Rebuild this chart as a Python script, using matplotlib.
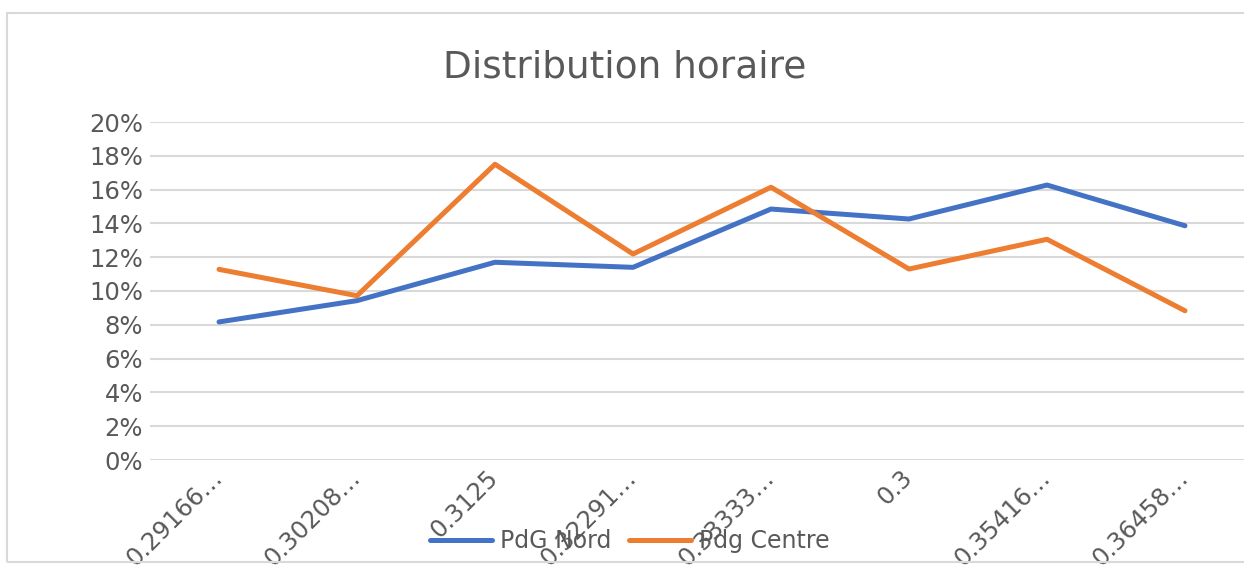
import matplotlib
matplotlib.use("Agg")
import matplotlib.pyplot as plt
from matplotlib.patches import Rectangle
from matplotlib.ticker import PercentFormatter
from matplotlib.transforms import ScaledTranslation

plt.rcParams["font.family"] = ["DejaVu Sans"]

categories = ["0.29166…", "0.30208…", "0.3125", "0.32291…", "0.33333…", "0.3", "0.35416…", "0.36458…"]
pdg_nord = [0.0817, 0.0943, 0.1170, 0.1140, 0.1485, 0.1426, 0.1627, 0.1386]
pdg_centre = [0.1128, 0.0972, 0.1750, 0.1219, 0.1614, 0.1130, 0.1306, 0.0883]
series_names = ["PdG Nord", "Pdg Centre"]

W, H = 1244, 566
fig = plt.figure(figsize=(W / 100, H / 100), dpi=100)
fig.patch.set_facecolor("white")

# chart border
fig.patches.append(Rectangle((7 / W, 1 - 562 / H), (1255 - 7) / W, (562 - 13) / H,
                             transform=fig.transFigure, fill=False,
                             edgecolor="#d9d9d9", linewidth=1.5))

ax = fig.add_axes([150 / W, 1 - 460 / H, 1104 / W, (460 - 122) / H])
x = list(range(len(categories)))
ax.plot(x, pdg_nord, color="#4472c4", lw=3.6, solid_capstyle="round", solid_joinstyle="round", label=series_names[0])
ax.plot(x, pdg_centre, color="#ed7d31", lw=3.6, solid_capstyle="round", solid_joinstyle="round", label=series_names[1])

ax.set_xlim(-0.5, len(categories) - 0.5)
ax.set_ylim(0, 0.20)
ax.set_yticks([i / 100 for i in range(0, 21, 2)])
ax.yaxis.set_major_formatter(PercentFormatter(1.0, decimals=0))
ax.grid(axis="y", color="#d9d9d9", lw=1.5)
ax.set_axisbelow(True)
for s in ax.spines.values():
    s.set_visible(False)
ax.tick_params(axis="both", length=0, labelsize=17.5, labelcolor="#595959")
ax.tick_params(axis="y", pad=5)
ax.set_xticks(x)
ax.set_xticklabels(categories, rotation=45, ha="right", va="top", rotation_mode="anchor")
ax.tick_params(axis="x", pad=4)
offset = ScaledTranslation(-9 / 100, 0, fig.dpi_scale_trans)
for lbl in ax.get_xticklabels():
    lbl.set_transform(lbl.get_transform() + offset)

fig.text(625 / W, 1 - 68 / H, "Distribution horaire", ha="center", va="center",
         fontsize=27, color="#595959")

leg = fig.legend(loc="center", bbox_to_anchor=(630 / W, 1 - 541 / H), ncol=2, frameon=False,
                 fontsize=17, handlelength=2.6, columnspacing=0.75, handletextpad=0.35)
for t in leg.get_texts():
    t.set_color("#595959")

fig.savefig("out.png", dpi=100, facecolor="white")
